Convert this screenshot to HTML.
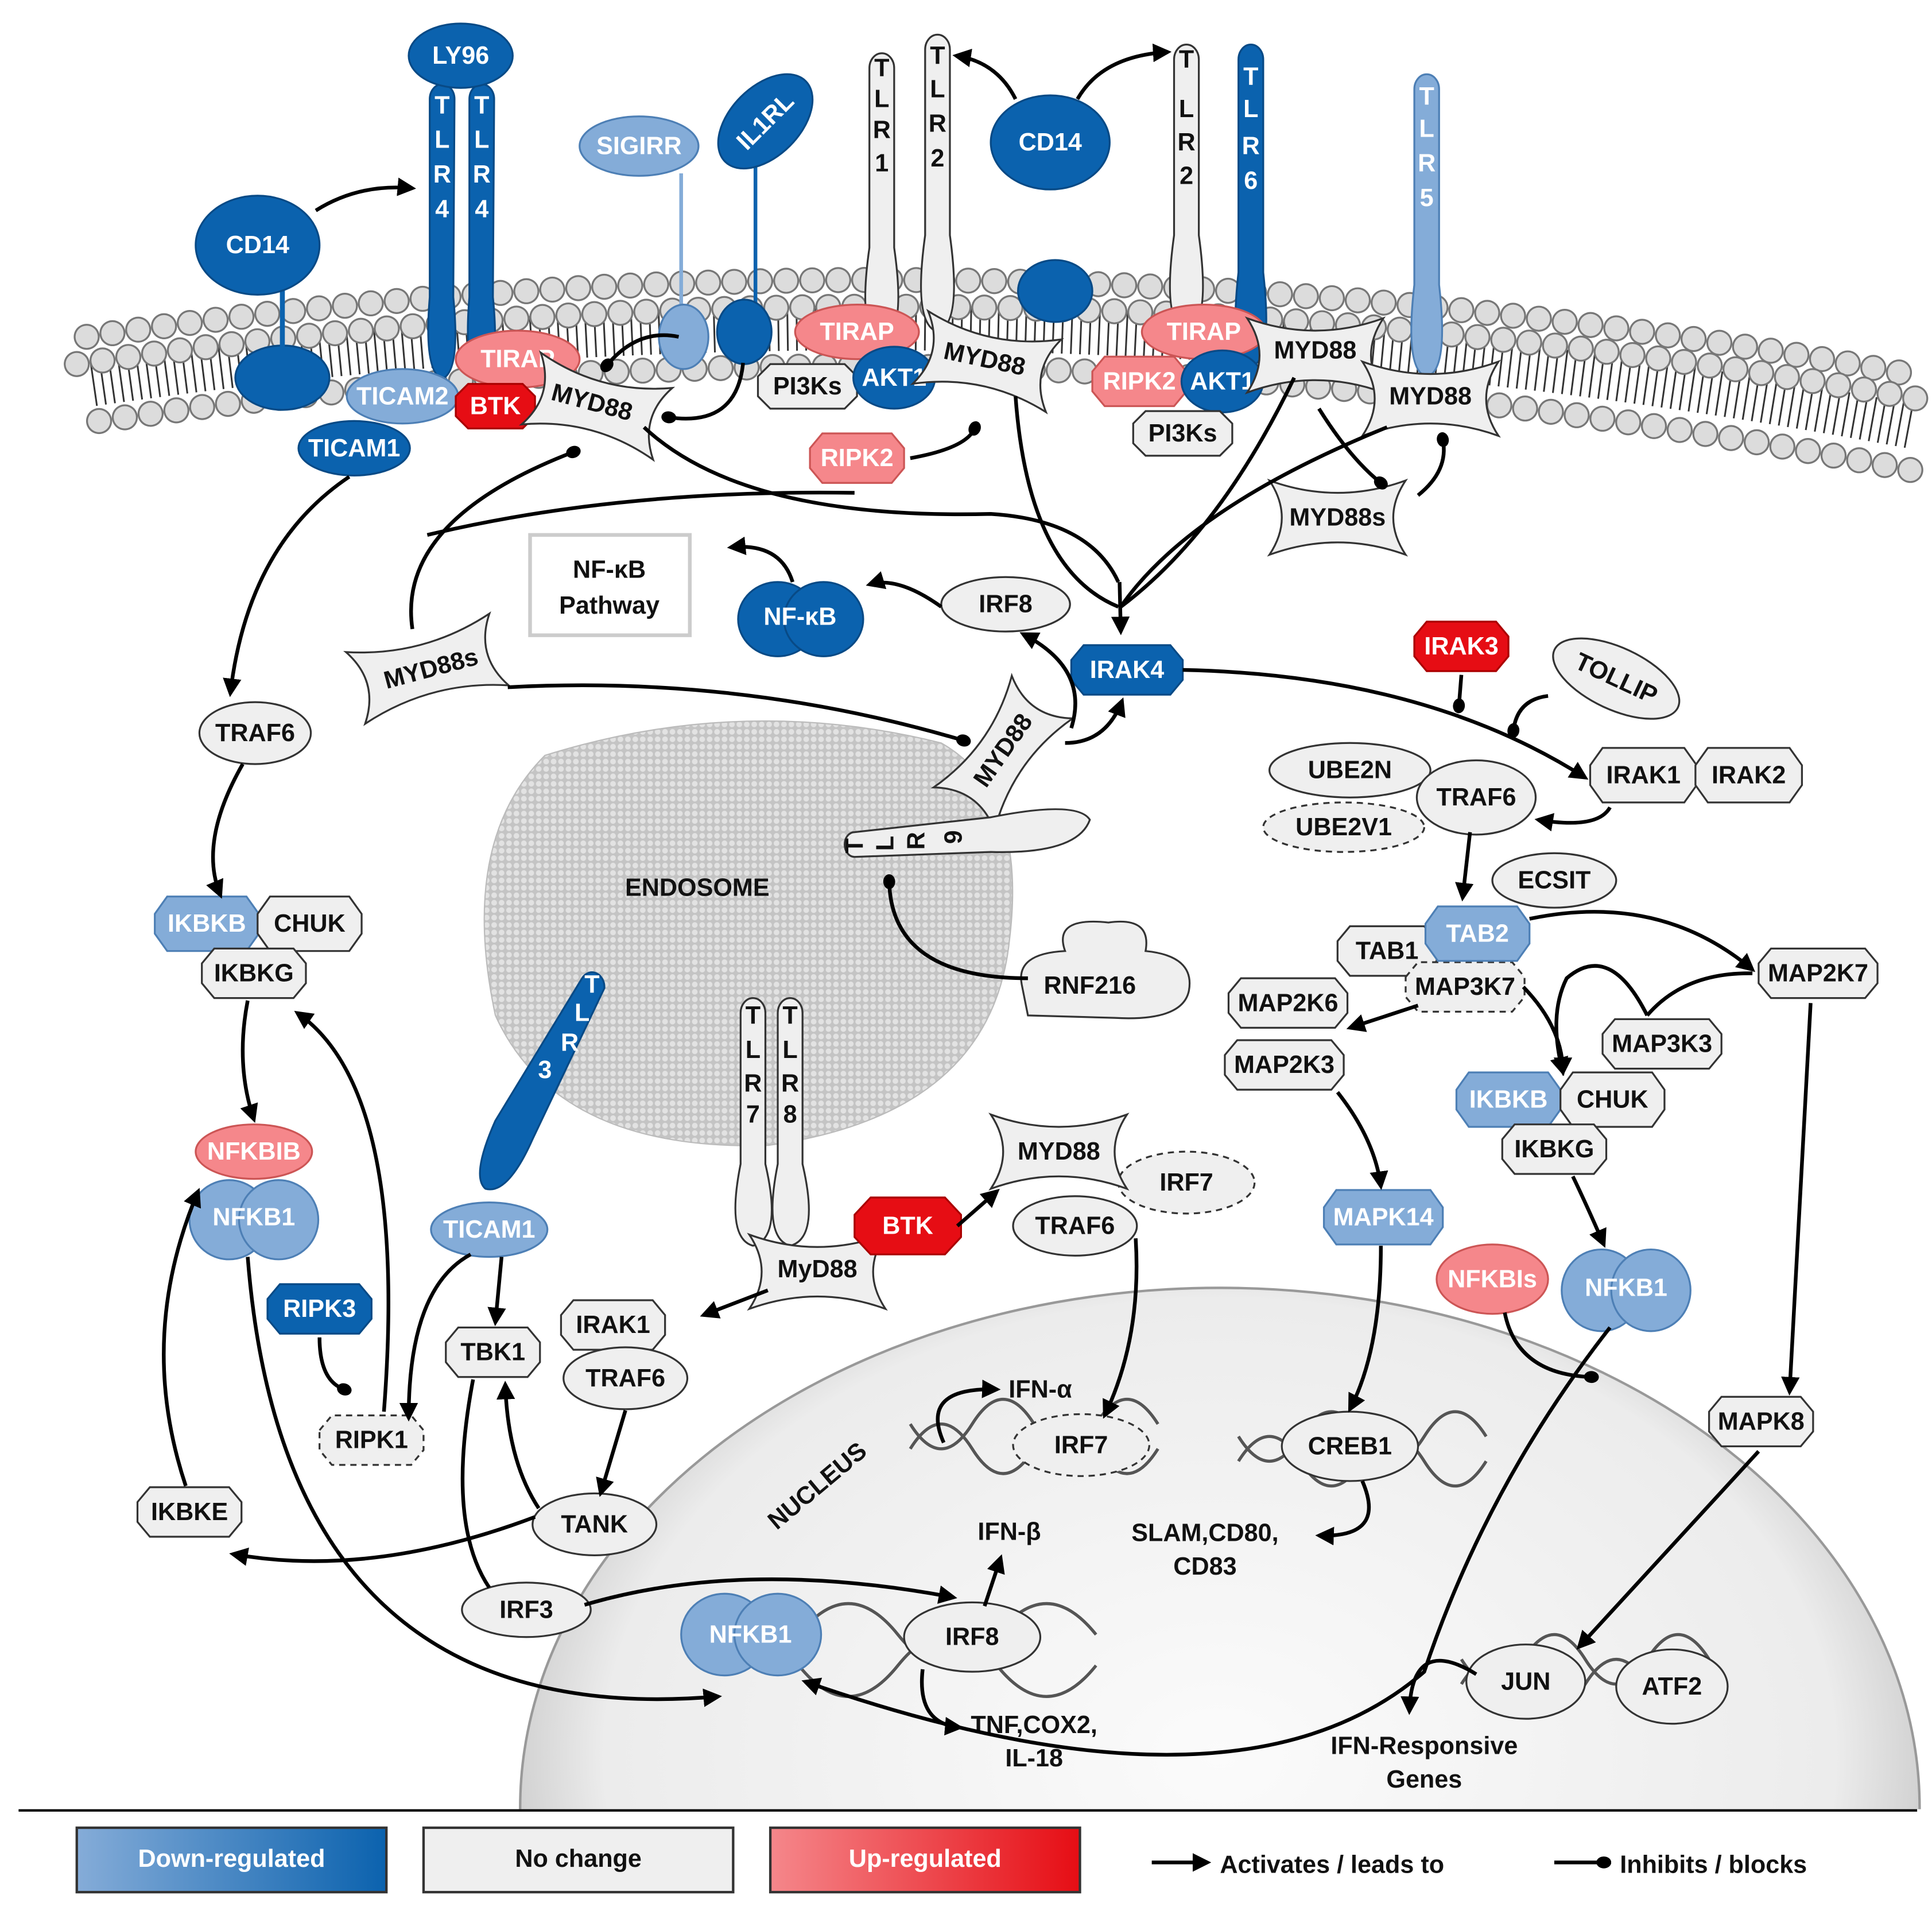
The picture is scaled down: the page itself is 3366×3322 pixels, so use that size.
<!DOCTYPE html>
<html><head><meta charset="utf-8"><style>
html,body{margin:0;padding:0;background:#fff;overflow:hidden;width:3366px;height:3322px}
svg{display:block}
text{font-family:"Liberation Sans",sans-serif;font-weight:bold;font-size:20px;text-anchor:middle;dominant-baseline:central;fill:#111}
.w{fill:#fff}
.g{fill:#efefef;stroke:#333;stroke-width:1.5}
.gd{fill:#efefef;stroke:#333;stroke-width:1.5;stroke-dasharray:5 4}
.db{fill:#0b62ae;stroke:#084a86;stroke-width:1.5}
.lb{fill:#84acd8;stroke:#4d7fb5;stroke-width:1.5}
.pk{fill:#f5878b;stroke:#c55;stroke-width:1.5}
.rd{fill:#e60d14;stroke:#a00;stroke-width:1.5}
.a{fill:none;stroke:#000;stroke-width:3;marker-end:url(#ar)}
.i{fill:none;stroke:#000;stroke-width:3;marker-end:url(#inh)}
.l{fill:none;stroke:#000;stroke-width:3}
</style></head><body>
<svg width="3366" height="3322" viewBox="0 0 1560 1540" preserveAspectRatio="none" xmlns="http://www.w3.org/2000/svg">
<defs>
<marker id="ar" viewBox="0 0 10 10" refX="8" refY="5" markerWidth="5" markerHeight="5" orient="auto" markerUnits="strokeWidth"><path d="M0,0L10,5L0,10z" fill="#000"/></marker>
<marker id="inh" viewBox="0 0 10 10" refX="5" refY="5" markerWidth="4" markerHeight="5" orient="auto" markerUnits="strokeWidth"><ellipse cx="5" cy="5" rx="5" ry="4" fill="#000"/></marker>
<radialGradient id="nuc" cx="0.5" cy="0.45" r="0.55"><stop offset="0" stop-color="#fbfbfb"/><stop offset="0.8" stop-color="#ececec"/><stop offset="1" stop-color="#bdbdbd"/></radialGradient>
<pattern id="dots" width="6" height="6" patternUnits="userSpaceOnUse"><rect width="6" height="6" fill="#c4c4c4"/><circle cx="3" cy="3" r="2.3" fill="#e2e2e2"/></pattern>
<linearGradient id="gb" x1="0" x2="1"><stop offset="0" stop-color="#85acd8"/><stop offset="1" stop-color="#0b62ae"/></linearGradient>
<linearGradient id="gr" x1="0" x2="1"><stop offset="0" stop-color="#f5878b"/><stop offset="1" stop-color="#e60d14"/></linearGradient>
<clipPath id="cl"><rect x="0" y="0" width="1560" height="1461"/></clipPath>
</defs>

<!-- nucleus -->
<ellipse cx="985" cy="1460" rx="565" ry="420" fill="url(#nuc)" stroke="#999" stroke-width="2" clip-path="url(#cl)"/>
<text x="660" y="1200" transform="rotate(-40 660 1200)" font-size="21">NUCLEUS</text>

<!-- endosome -->
<path d="M440,610 Q600,560 760,600 Q830,640 815,760 Q800,900 620,925 Q450,930 400,820 Q370,680 440,610Z" fill="url(#dots)" stroke="#bbb"/>
<text x="563" y="717">ENDOSOME</text>

<!-- membrane -->
<path d="M75,310 Q800,205 1542,344" fill="none" stroke="#333" stroke-width="36" stroke-dasharray="1.4 6"/>
<g fill="none" stroke-linecap="round" stroke-dasharray="0 21">
<path d="M70,272 Q800,167 1540,302" stroke="#777" stroke-width="21"/>
<path d="M70,272 Q800,167 1540,302" stroke="#dcdcdc" stroke-width="18"/>
<path d="M62,294 Q800,189 1548,322" stroke="#777" stroke-width="21"/>
<path d="M62,294 Q800,189 1548,322" stroke="#dcdcdc" stroke-width="18"/>
<path d="M80,340 Q800,235 1545,380" stroke="#777" stroke-width="21"/>
<path d="M80,340 Q800,235 1545,380" stroke="#dcdcdc" stroke-width="18"/>
</g>

<!-- receptors top -->
<ellipse cx="228" cy="305" rx="38" ry="26" class="db"/>
<line x1="228" y1="230" x2="228" y2="290" stroke="#0b62ae" stroke-width="4"/>
<ellipse cx="208" cy="198" rx="50" ry="40" class="db"/><text x="208" y="198" class="w">CD14</text>
<path d="M347,80 a10,12 0 0 1 20,0 L366,240 Q372,300 357,306 Q342,300 347,240Z" class="db"/>
<path d="M379,80 a10,12 0 0 1 20,0 L398,240 Q404,300 389,306 Q374,300 379,240Z" class="db"/>
<g font-size="18"><text x="357" y="85" class="w">T</text><text x="357" y="113" class="w">L</text><text x="357" y="141" class="w">R</text><text x="357" y="169" class="w">4</text><text x="389" y="85" class="w">T</text><text x="389" y="113" class="w">L</text><text x="389" y="141" class="w">R</text><text x="389" y="169" class="w">4</text></g>
<ellipse cx="372" cy="45" rx="42" ry="26" class="db"/><text x="372" y="45" class="w">LY96</text>
<line x1="550" y1="140" x2="550" y2="250" stroke="#84acd8" stroke-width="3"/>
<line x1="610" y1="130" x2="610" y2="250" stroke="#0b62ae" stroke-width="3"/>
<ellipse cx="516" cy="118" rx="48" ry="24" class="lb"/><text x="516" y="118" class="w">SIGIRR</text>
<ellipse cx="618" cy="98" rx="46" ry="28" class="db" transform="rotate(-45 618 98)"/><text x="618" y="98" class="w" transform="rotate(-45 618 98)">IL1RL</text>
<ellipse cx="552" cy="272" rx="20" ry="26" class="lb"/>
<ellipse cx="601" cy="268" rx="22" ry="26" class="db"/>
<path d="M702,55 a10,12 0 0 1 20,0 L722,200 Q732,270 712,275 Q692,270 702,200Z" class="g"/>
<path d="M747,40 a10,12 0 0 1 20,0 L767,190 Q777,262 757,268 Q737,262 747,190Z" class="g"/>
<g font-size="17"><text x="712" y="55">T</text><text x="712" y="80">L</text><text x="712" y="105">R</text><text x="712" y="132">1</text><text x="757" y="45">T</text><text x="757" y="72">L</text><text x="757" y="100">R</text><text x="757" y="128">2</text></g>
<ellipse cx="852" cy="235" rx="30" ry="25" class="db"/>
<ellipse cx="848" cy="115" rx="48" ry="38" class="db"/><text x="848" y="115" class="w">CD14</text>
<path d="M948,48 a10,12 0 0 1 20,0 L968,190 Q978,262 958,268 Q938,262 948,190Z" class="g"/>
<path d="M1000,48 a10,12 0 0 1 20,0 L1020,220 Q1028,292 1010,296 Q992,292 1000,220Z" class="db"/>
<path d="M1142,72 a10,12 0 0 1 20,0 L1162,230 Q1170,300 1152,304 Q1134,300 1142,230Z" class="lb"/>
<g font-size="17"><text x="958" y="48">T</text><text x="958" y="88">L</text><text x="958" y="115">R</text><text x="958" y="142">2</text></g>
<g font-size="17"><text x="1010" y="62" class="w">T</text><text x="1010" y="88" class="w">L</text><text x="1010" y="118" class="w">R</text><text x="1010" y="146" class="w">6</text><text x="1152" y="78" class="w">T</text><text x="1152" y="104" class="w">L</text><text x="1152" y="132" class="w">R</text><text x="1152" y="160" class="w">5</text></g>

<!-- adaptors top -->
<ellipse cx="325" cy="320" rx="45" ry="22" class="lb"/><text x="325" y="320" class="w">TICAM2</text>
<ellipse cx="418" cy="290" rx="50" ry="23" class="pk"/><text x="418" y="290" class="w">TIRAP</text>
<polygon points="-32,-8 -22,-18 22,-18 32,-8 32,8 22,18 -22,18 -32,8" transform="translate(400,328)" class="rd"/><text x="400" y="328" class="w">BTK</text>
<ellipse cx="286" cy="362" rx="45" ry="22" class="db"/><text x="286" y="362" class="w">TICAM1</text>
<path d="M-55,-30 Q0,-10 55,-30 Q35,0 55,30 Q0,10 -55,30 Q-35,0 -55,-30Z" transform="translate(482,328) rotate(15)" class="g"/><text x="478" y="325" transform="rotate(15 478 325)">MYD88</text>
<ellipse cx="692" cy="268" rx="50" ry="22" class="pk"/><text x="692" y="268" class="w">TIRAP</text>
<polygon points="-40,-8 -30,-18 30,-18 40,-8 40,8 30,18 -30,18 -40,8" transform="translate(652,312)" class="g"/><text x="652" y="312">PI3Ks</text>
<ellipse cx="722" cy="305" rx="33" ry="25" class="db"/><text x="722" y="305" class="w">AKT1</text>
<path d="M-55,-30 Q0,-10 55,-30 Q35,0 55,30 Q0,10 -55,30 Q-35,0 -55,-30Z" transform="translate(797,292) rotate(12)" class="g"/><text x="795" y="290" transform="rotate(12 795 290)">MYD88</text>
<polygon points="-38,-8 -28,-20 28,-20 38,-8 38,8 28,20 -28,20 -38,8" transform="translate(692,370)" class="pk"/><text x="692" y="370" class="w">RIPK2</text>
<ellipse cx="972" cy="268" rx="50" ry="22" class="pk"/><text x="972" y="268" class="w">TIRAP</text>
<polygon points="-38,-8 -28,-20 28,-20 38,-8 38,8 28,20 -28,20 -38,8" transform="translate(920,308)" class="pk"/><text x="920" y="308" class="w">RIPK2</text>
<ellipse cx="987" cy="308" rx="33" ry="25" class="db"/><text x="987" y="308" class="w">AKT1</text>
<polygon points="-40,-8 -30,-18 30,-18 40,-8 40,8 30,18 -30,18 -40,8" transform="translate(955,350)" class="g"/><text x="955" y="350">PI3Ks</text>
<path d="M-55,-30 Q0,-10 55,-30 Q35,0 55,30 Q0,10 -55,30 Q-35,0 -55,-30Z" transform="translate(1062,287)" class="g"/><text x="1062" y="283">MYD88</text>
<path d="M-55,-30 Q0,-10 55,-30 Q35,0 55,30 Q0,10 -55,30 Q-35,0 -55,-30Z" transform="translate(1155,322)" class="g"/><text x="1155" y="320">MYD88</text>
<path d="M-55,-30 Q0,-10 55,-30 Q35,0 55,30 Q0,10 -55,30 Q-35,0 -55,-30Z" transform="translate(1080,418)" class="g"/><text x="1080" y="418">MYD88s</text>

<!-- middle -->
<rect x="428" y="432" width="129" height="81" fill="#fff" stroke="#ccc" stroke-width="3"/>
<text x="492" y="460">NF-κB</text><text x="492" y="489">Pathway</text>
<ellipse cx="628" cy="500" rx="32" ry="30" class="db"/><ellipse cx="665" cy="500" rx="32" ry="30" class="db"/><text x="646" y="498" class="w">NF-κB</text>
<ellipse cx="812" cy="488" rx="52" ry="22" class="g"/><text x="812" y="488">IRF8</text>
<polygon points="-45,-8 -35,-20 35,-20 45,-8 45,8 35,20 -35,20 -45,8" transform="translate(910,541)" class="db"/><text x="910" y="541" class="w">IRAK4</text>
<path d="M-60,-30 Q0,-10 60,-30 Q40,0 60,30 Q0,10 -60,30 Q-40,0 -60,-30Z" transform="translate(345,540) rotate(-15)" class="g"/><text x="348" y="540" transform="rotate(-15 348 540)">MYD88s</text>
<ellipse cx="206" cy="592" rx="45" ry="25" class="g"/><text x="206" y="592">TRAF6</text>
<polygon points="-38,-8 -28,-20 28,-20 38,-8 38,8 28,20 -28,20 -38,8" transform="translate(1180,522)" class="rd"/><text x="1180" y="522" class="w">IRAK3</text>
<ellipse cx="1305" cy="548" rx="55" ry="25" class="g" transform="rotate(25 1305 548)"/><text x="1305" y="548" transform="rotate(25 1305 548)">TOLLIP</text>
<ellipse cx="1085" cy="668" rx="65" ry="20" class="gd"/><text x="1085" y="668">UBE2V1</text>
<ellipse cx="1090" cy="622" rx="65" ry="22" class="g"/><text x="1090" y="622">UBE2N</text>
<ellipse cx="1192" cy="644" rx="48" ry="30" class="g"/><text x="1192" y="644">TRAF6</text>
<polygon points="-43,-8 -33,-22 33,-22 43,-8 43,8 33,22 -33,22 -43,8" transform="translate(1327,626)" class="g"/><text x="1327" y="626">IRAK1</text>
<polygon points="-43,-8 -33,-22 33,-22 43,-8 43,8 33,22 -33,22 -43,8" transform="translate(1412,626)" class="g"/><text x="1412" y="626">IRAK2</text>
<ellipse cx="1255" cy="711" rx="50" ry="22" class="g"/><text x="1255" y="711">ECSIT</text>
<path d="M-55,-30 Q0,-10 55,-30 Q35,0 55,30 Q0,10 -55,30 Q-35,0 -55,-30Z" transform="translate(810,608) rotate(-55)" class="g"/><text x="810" y="606" transform="rotate(-55 810 606)">MYD88</text>
<path d="M690,672 a8,10 0 0 0 0,20 L800,688 Q870,690 880,662 Q870,646 800,660Z" class="g"/>
<g font-size="16"><text x="690" y="683" transform="rotate(-90 690 683)">T</text><text x="715" y="681" transform="rotate(-90 715 681)">L</text><text x="740" y="679" transform="rotate(-90 740 679)">R</text><text x="770" y="676" transform="rotate(-90 770 676)">9</text></g>
<path d="M825,795 Q820,770 860,768 Q850,740 895,745 Q930,740 925,768 Q965,772 960,800 Q955,825 900,822 L830,820Z" class="g"/><text x="880" y="796">RNF216</text>

<!-- left column -->
<polygon points="-42,-8 -32,-22 32,-22 42,-8 42,8 32,22 -32,22 -42,8" transform="translate(167,746)" class="lb"/><text x="167" y="746" class="w">IKBKB</text>
<polygon points="-42,-8 -32,-22 32,-22 42,-8 42,8 32,22 -32,22 -42,8" transform="translate(250,746)" class="g"/><text x="250" y="746">CHUK</text>
<polygon points="-42,-8 -32,-20 32,-20 42,-8 42,8 32,20 -32,20 -42,8" transform="translate(205,786)" class="g"/><text x="205" y="786">IKBKG</text>
<ellipse cx="205" cy="930" rx="47" ry="22" class="pk"/><text x="205" y="930" class="w">NFKBIB</text>
<ellipse cx="185" cy="985" rx="32" ry="32" class="lb"/><ellipse cx="225" cy="985" rx="32" ry="32" class="lb"/><text x="205" y="983" class="w">NFKB1</text>
<polygon points="-42,-8 -32,-20 32,-20 42,-8 42,8 32,20 -32,20 -42,8" transform="translate(258,1057)" class="db"/><text x="258" y="1057" class="w">RIPK3</text>
<polygon points="-42,-8 -32,-20 32,-20 42,-8 42,8 32,20 -32,20 -42,8" transform="translate(300,1163)" class="gd"/><text x="300" y="1163">RIPK1</text>
<polygon points="-42,-8 -32,-20 32,-20 42,-8 42,8 32,20 -32,20 -42,8" transform="translate(153,1221)" class="g"/><text x="153" y="1221">IKBKE</text>
<path d="M470,790 a10,12 0 0 1 18,8 L430,920 Q410,965 392,960 Q380,950 400,905Z" class="db"/>
<g font-size="16"><text x="478" y="795" class="w">T</text><text x="470" y="818" class="w">L</text><text x="460" y="842" class="w">R</text><text x="440" y="864" class="w">3</text></g>
<ellipse cx="395" cy="993" rx="47" ry="22" class="lb"/><text x="395" y="993" class="w">TICAM1</text>
<polygon points="-38,-8 -28,-20 28,-20 38,-8 38,8 28,20 -28,20 -38,8" transform="translate(398,1092)" class="g"/><text x="398" y="1092">TBK1</text>
<polygon points="-42,-8 -32,-20 32,-20 42,-8 42,8 32,20 -32,20 -42,8" transform="translate(495,1070)" class="g"/><text x="495" y="1070">IRAK1</text>
<ellipse cx="505" cy="1113" rx="50" ry="25" class="g"/><text x="505" y="1113">TRAF6</text>
<ellipse cx="480" cy="1231" rx="50" ry="25" class="g"/><text x="480" y="1231">TANK</text>
<ellipse cx="425" cy="1300" rx="52" ry="22" class="g"/><text x="425" y="1300">IRF3</text>

<!-- TLR7/8 -->
<path d="M598,818 a10,12 0 0 1 20,0 L618,940 Q632,1000 608,1006 Q586,1000 598,940Z" class="g"/>
<path d="M628,818 a10,12 0 0 1 20,0 L648,940 Q662,1000 638,1006 Q616,1000 628,940Z" class="g"/>
<g font-size="17"><text x="608" y="820">T</text><text x="608" y="848">L</text><text x="608" y="875">R</text><text x="608" y="900">7</text><text x="638" y="820">T</text><text x="638" y="848">L</text><text x="638" y="875">R</text><text x="638" y="900">8</text></g>
<path d="M-55,-30 Q0,-10 55,-30 Q35,0 55,30 Q0,10 -55,30 Q-35,0 -55,-30Z" transform="translate(660,1027)" class="g"/><text x="660" y="1025">MyD88</text>
<polygon points="-43,-9 -30,-23 30,-23 43,-9 43,9 30,23 -30,23 -43,9" transform="translate(733,990)" class="rd"/><text x="733" y="990" class="w">BTK</text>
<ellipse cx="958" cy="955" rx="55" ry="25" class="gd"/><text x="958" y="955">IRF7</text>
<path d="M-55,-30 Q0,-10 55,-30 Q35,0 55,30 Q0,10 -55,30 Q-35,0 -55,-30Z" transform="translate(855,930)" class="g"/><text x="855" y="930">MYD88</text>
<ellipse cx="868" cy="990" rx="50" ry="24" class="g"/><text x="868" y="990">TRAF6</text>

<!-- right column -->
<polygon points="-40,-8 -30,-20 30,-20 40,-8 40,8 30,20 -30,20 -40,8" transform="translate(1120,768)" class="g"/><text x="1120" y="768">TAB1</text>
<polygon points="-48,-8 -38,-20 38,-20 48,-8 48,8 38,20 -38,20 -48,8" transform="translate(1183,797)" class="gd"/><text x="1183" y="797">MAP3K7</text>
<polygon points="-42,-8 -32,-22 32,-22 42,-8 42,8 32,22 -32,22 -42,8" transform="translate(1193,754)" class="lb"/><text x="1193" y="754" class="w">TAB2</text>
<polygon points="-48,-8 -38,-20 38,-20 48,-8 48,8 38,20 -38,20 -48,8" transform="translate(1040,810)" class="g"/><text x="1040" y="810">MAP2K6</text>
<polygon points="-48,-8 -38,-20 38,-20 48,-8 48,8 38,20 -38,20 -48,8" transform="translate(1037,860)" class="g"/><text x="1037" y="860">MAP2K3</text>
<polygon points="-48,-8 -38,-20 38,-20 48,-8 48,8 38,20 -38,20 -48,8" transform="translate(1468,786)" class="g"/><text x="1468" y="786">MAP2K7</text>
<polygon points="-48,-8 -38,-20 38,-20 48,-8 48,8 38,20 -38,20 -48,8" transform="translate(1342,843)" class="g"/><text x="1342" y="843">MAP3K3</text>
<polygon points="-42,-8 -32,-22 32,-22 42,-8 42,8 32,22 -32,22 -42,8" transform="translate(1218,888)" class="lb"/><text x="1218" y="888" class="w">IKBKB</text>
<polygon points="-42,-8 -32,-22 32,-22 42,-8 42,8 32,22 -32,22 -42,8" transform="translate(1302,888)" class="g"/><text x="1302" y="888">CHUK</text>
<polygon points="-42,-8 -32,-20 32,-20 42,-8 42,8 32,20 -32,20 -42,8" transform="translate(1255,928)" class="g"/><text x="1255" y="928">IKBKG</text>
<polygon points="-48,-8 -38,-22 38,-22 48,-8 48,8 38,22 -38,22 -48,8" transform="translate(1117,983)" class="lb"/><text x="1117" y="983" class="w">MAPK14</text>
<ellipse cx="1205" cy="1033" rx="45" ry="28" class="pk"/><text x="1205" y="1033" class="w">NFKBIs</text>
<ellipse cx="1293" cy="1042" rx="32" ry="33" class="lb"/><ellipse cx="1333" cy="1042" rx="32" ry="33" class="lb"/><text x="1313" y="1040" class="w">NFKB1</text>
<polygon points="-42,-8 -32,-20 32,-20 42,-8 42,8 32,20 -32,20 -42,8" transform="translate(1422,1148)" class="g"/><text x="1422" y="1148">MAPK8</text>

<!-- DNA -->
<g fill="none" stroke="#555" stroke-width="2.5">
<path d="M735,1170 q25,-40 50,0 t50,0 t50,0 t50,0 M735,1150 q25,40 50,0 t50,0 t50,0 t50,0"/>
<path d="M1000,1180 q25,-40 50,0 t50,0 t50,0 t50,0 M1000,1160 q25,40 50,0 t50,0 t50,0 t50,0"/>
<path d="M565,1345 q40,-50 80,0 t80,0 t80,0 t80,0 M565,1320 q40,50 80,0 t80,0 t80,0 t80,0"/>
<path d="M1180,1360 q25,-40 50,0 t50,0 t50,0 t50,0 M1180,1340 q25,40 50,0 t50,0 t50,0 t50,0"/>
</g>
<text x="840" y="1122">IFN-α</text>
<ellipse cx="873" cy="1167" rx="55" ry="25" class="gd"/><text x="873" y="1167">IRF7</text>
<ellipse cx="1090" cy="1168" rx="55" ry="28" class="g"/><text x="1090" y="1168">CREB1</text>
<text x="973" y="1238">SLAM,CD80,</text><text x="973" y="1265">CD83</text>
<text x="815" y="1237">IFN-β</text>
<ellipse cx="585" cy="1320" rx="35" ry="33" class="lb"/><ellipse cx="628" cy="1320" rx="35" ry="33" class="lb"/><text x="606" y="1320" class="w">NFKB1</text>
<ellipse cx="785" cy="1322" rx="55" ry="28" class="g"/><text x="785" y="1322">IRF8</text>
<text x="835" y="1393">TNF,COX2,</text><text x="835" y="1420">IL-18</text>
<ellipse cx="1232" cy="1358" rx="48" ry="30" class="g"/><text x="1232" y="1358">JUN</text>
<ellipse cx="1350" cy="1362" rx="45" ry="30" class="g"/><text x="1350" y="1362">ATF2</text>
<text x="1150" y="1410">IFN-Responsive</text><text x="1150" y="1437">Genes</text>

<!-- connectors -->
<path class="a" d="M255,170 Q290,148 333,152"/>
<path class="a" d="M820,80 Q805,50 772,45"/>
<path class="a" d="M870,80 Q890,45 943,42"/>
<path class="a" d="M282,385 Q200,440 186,560"/>
<path class="a" d="M196,617 Q160,680 178,723"/>
<path class="a" d="M200,808 Q190,860 205,904"/>
<path class="i" d="M548,272 Q515,265 490,295"/>
<path class="i" d="M600,293 Q595,345 540,337"/>
<path class="i" d="M735,370 Q780,362 787,346"/>
<path class="i" d="M333,508 Q320,420 463,365"/>
<path class="l" d="M345,432 Q500,395 690,398"/>
<path class="l" d="M520,345 Q600,420 800,415 Q880,420 903,470"/>
<path class="l" d="M820,320 Q830,460 903,490"/>
<path class="l" d="M1045,305 Q985,430 905,490"/>
<path class="l" d="M1120,345 Q960,410 905,490"/>
<path class="a" d="M904,470 L905,510"/>
<path class="i" d="M1065,330 Q1090,370 1115,390"/>
<path class="i" d="M1145,400 Q1170,380 1165,355"/>
<path class="i" d="M410,555 Q600,545 778,598"/>
<path class="a" d="M955,541 Q1150,545 1280,628"/>
<path class="i" d="M1180,545 L1178,570"/>
<path class="i" d="M1250,562 Q1225,565 1222,590"/>
<path class="a" d="M1300,652 Q1290,670 1242,662"/>
<path class="a" d="M1187,672 L1181,725"/>
<path class="a" d="M1235,742 Q1340,720 1415,783"/>
<path class="a" d="M1145,812 L1090,830"/>
<path class="a" d="M1230,797 Q1262,830 1262,866"/>
<path class="a" d="M1330,820 Q1300,760 1265,790 Q1250,820 1262,866"/>
<path class="l" d="M1330,820 Q1360,785 1415,786"/>
<path class="a" d="M1462,810 L1445,1124"/>
<path class="a" d="M1080,882 Q1110,920 1115,958"/>
<path class="a" d="M1115,1006 Q1115,1090 1090,1138"/>
<path class="a" d="M1270,950 Q1282,975 1295,1005"/>
<path class="i" d="M1215,1060 Q1225,1110 1285,1112"/>
<path class="a" d="M1300,1072 Q1200,1200 1150,1350 Q1000,1480 650,1358"/>
<path class="a" d="M1420,1172 Q1330,1270 1275,1330"/>
<path class="a" d="M865,588 Q880,540 826,512"/>
<path class="a" d="M860,600 Q893,600 906,566"/>
<path class="a" d="M760,490 Q725,465 702,472"/>
<path class="a" d="M640,470 Q630,438 590,442"/>
<path class="i" d="M830,790 Q720,790 718,712"/>
<path class="a" d="M405,1015 L400,1068"/>
<path class="a" d="M380,1013 Q330,1040 330,1145"/>
<path class="i" d="M258,1080 Q258,1115 278,1122"/>
<path class="a" d="M310,1140 Q330,880 240,818"/>
<path class="l" d="M382,1114 Q360,1230 395,1282"/>
<path class="a" d="M472,1296 Q600,1258 770,1290"/>
<path class="a" d="M435,1218 Q410,1180 408,1118"/>
<path class="a" d="M505,1139 L485,1206"/>
<path class="a" d="M432,1225 Q300,1275 188,1255"/>
<path class="a" d="M150,1200 Q110,1080 160,962"/>
<path class="a" d="M200,1015 Q230,1400 580,1370"/>
<path class="a" d="M773,990 L805,962"/>
<path class="a" d="M620,1042 L568,1062"/>
<path class="a" d="M917,1000 Q922,1080 892,1143"/>
<path class="a" d="M762,1165 Q742,1120 805,1122"/>
<path class="a" d="M795,1297 L808,1258"/>
<path class="a" d="M745,1348 Q740,1392 775,1395"/>
<path class="a" d="M1100,1196 Q1120,1242 1065,1240"/>
<path class="a" d="M1192,1352 Q1140,1320 1138,1382"/>

<!-- legend -->
<line x1="15" y1="1462" x2="1548" y2="1462" stroke="#000" stroke-width="2"/>
<rect x="62" y="1476" width="250" height="52" fill="url(#gb)" stroke="#333" stroke-width="2"/><text x="187" y="1501" class="w">Down-regulated</text>
<rect x="342" y="1476" width="250" height="52" fill="#efefef" stroke="#333" stroke-width="2"/><text x="467" y="1501">No change</text>
<rect x="622" y="1476" width="250" height="52" fill="url(#gr)" stroke="#333" stroke-width="2"/><text x="747" y="1501" class="w">Up-regulated</text>
<path class="a" d="M930,1504 L975,1504"/><text x="985" y="1506" style="text-anchor:start">Activates / leads to</text>
<path class="i" d="M1255,1504 L1295,1504"/><text x="1308" y="1506" style="text-anchor:start">Inhibits / blocks</text>
</svg>
</body></html>
